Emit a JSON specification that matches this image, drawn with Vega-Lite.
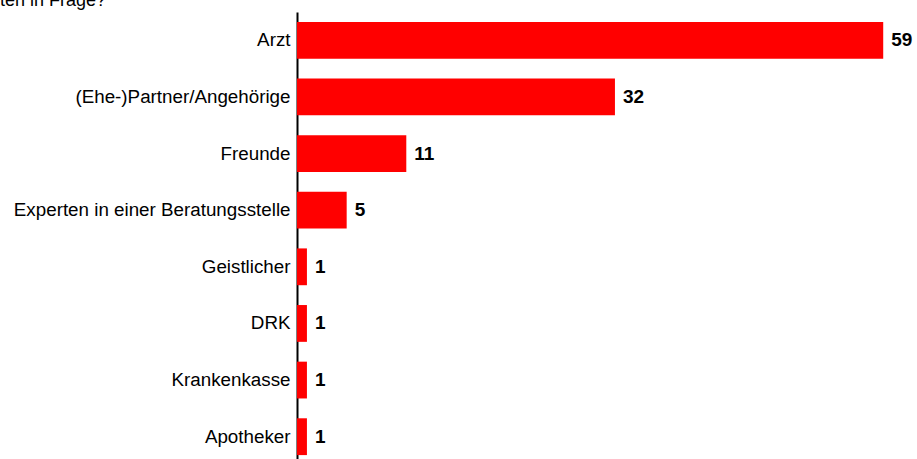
{
  "$schema": "https://vega.github.io/schema/vega-lite/v6.json",
  "autosize": "none",
  "width": 620,
  "height": 453,
  "padding": {"left": 297, "top": 12, "right": 0, "bottom": 0},
  "background": "white",
  "config": {"view": {"stroke": null}, "font": "Liberation Sans"},
  "title": {"text": "ten in Frage?", "anchor": "start", "frame": "group", "dx": -297, "dy": 18, "baseline": "bottom", "offset": 2, "fontSize": 18, "fontWeight": "normal", "font": "Liberation Sans", "color": "black"},
  "data": {"values": [
    {"k": "Arzt", "v": 59},
    {"k": "(Ehe-)Partner/Angehörige", "v": 32},
    {"k": "Freunde", "v": 11},
    {"k": "Experten in einer Beratungsstelle", "v": 5},
    {"k": "Geistlicher", "v": 1},
    {"k": "DRK", "v": 1},
    {"k": "Krankenkasse", "v": 1},
    {"k": "Apotheker", "v": 1}
  ]},
  "encoding": {
    "y": {"field": "k", "type": "nominal", "sort": null, "title": null,
      "scale": {"paddingInner": 0.35, "paddingOuter": 0.175},
      "axis": {"domain": true, "domainColor": "black", "domainWidth": 2, "ticks": false, "labelFontSize": 18.8, "labelColor": "black", "labelPadding": 7, "labelFont": "Liberation Sans", "labelLimit": 400}},
    "x": {"field": "v", "type": "quantitative", "title": null, "scale": {"domain": [0, 62.4]}, "axis": null}
  },
  "layer": [
    {"mark": {"type": "bar", "color": "#ff0000"}},
    {"mark": {"type": "text", "align": "left", "dx": 8, "fontSize": 19, "fontWeight": "bold", "color": "black"}, "encoding": {"text": {"field": "v"}}}
  ]
}
